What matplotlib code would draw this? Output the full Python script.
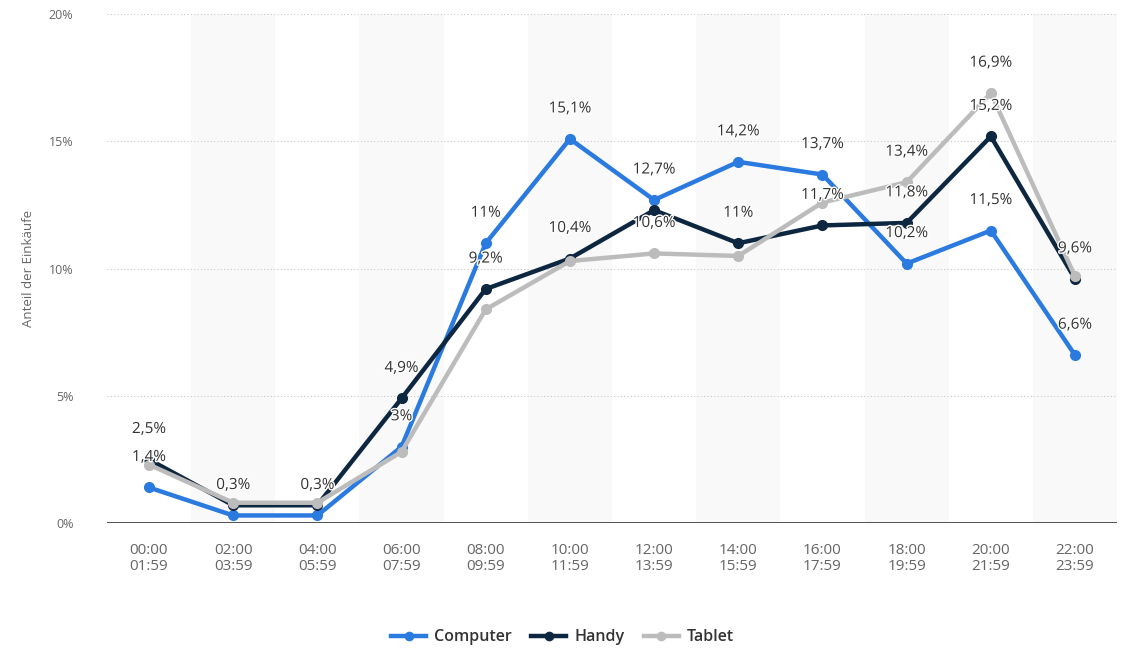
import matplotlib
matplotlib.use("Agg")
import matplotlib.pyplot as plt
import matplotlib.patheffects as pe

plt.rcParams['font.family'] = ['Open Sans', 'DejaVu Sans']

slots = ["00:00\n01:59", "02:00\n03:59", "04:00\n05:59", "06:00\n07:59",
         "08:00\n09:59", "10:00\n11:59", "12:00\n13:59", "14:00\n15:59",
         "16:00\n17:59", "18:00\n19:59", "20:00\n21:59", "22:00\n23:59"]

computer = [1.4, 0.3, 0.3, 3.0, 11.0, 15.1, 12.7, 14.2, 13.7, 10.2, 11.5, 6.6]
handy = [2.5, 0.7, 0.7, 4.9, 9.2, 10.4, 12.3, 11.0, 11.7, 11.8, 15.2, 9.6]
tablet = [2.3, 0.8, 0.8, 2.8, 8.4, 10.3, 10.6, 10.5, 12.6, 13.4, 16.9, 9.7]

# which points carry a value label (others hidden like in the original)
computer_lbl = [True] * 12
handy_lbl = [True, False, False, True, True, True, False, True, True, True, True, True]
tablet_lbl = [False, False, False, False, False, False, True, False, False, True, True, False]

series = [
    ("Computer", computer, computer_lbl, "#2b7ae0"),
    ("Handy", handy, handy_lbl, "#0e2741"),
    ("Tablet", tablet, tablet_lbl, "#bcbcbc"),
]


def fmt(v):
    s = f"{v:.1f}".replace(".", ",")
    if s.endswith(",0"):
        s = s[:-2]
    return s + "%"


fig = plt.figure(figsize=(11.25, 6.49), dpi=100)
ax = fig.add_axes([0.095, 0.194, 0.898, 0.784])

x = list(range(len(slots)))
for i in x:
    if i % 2 == 1:
        ax.axvspan(i - 0.5, i + 0.5, color="#f9f9f9", zorder=0, lw=0)

for yv in [5, 10, 15, 20]:
    ax.axhline(yv, color="#c8c8c8", lw=0.8, ls=(0, (1, 2)), zorder=1)
ax.axhline(0, color="#333333", lw=1.2, zorder=2)

for name, vals, lbl, col in series:
    ax.plot(x, vals, color=col, lw=3.2, marker="o", ms=7, label=name, zorder=3)

for name, vals, lbl, col in series:
    for i, v in enumerate(vals):
        if lbl[i]:
            ax.annotate(fmt(v), (i, v), xytext=(0, 30), textcoords="offset pixels",
                        ha="center", va="center", fontsize=11, color="#333333",
                        zorder=5,
                        path_effects=[pe.withStroke(linewidth=2, foreground="white")])

ax.set_xlim(-0.5, 11.5)
ax.set_ylim(0, 20)
ax.set_xticks(x)
ax.set_xticklabels(slots, fontsize=11, color="#666666", linespacing=1.1)
ax.set_yticks([0, 5, 10, 15, 20])
ax.set_yticklabels(["0%", "5%", "10%", "15%", "20%"], fontsize=9, color="#666666")
ax.tick_params(axis="both", length=0)
ax.tick_params(axis="x", pad=14)
ax.tick_params(axis="y", pad=24)
for sp in ax.spines.values():
    sp.set_visible(False)
ax.set_ylabel("Anteil der Einkäufe", fontsize=9.5, color="#666666", labelpad=10)

leg = fig.legend(loc="center", bbox_to_anchor=(0.5, 0.018), ncol=3, frameon=False,
                 fontsize=11.5, handlelength=2.2, columnspacing=1.2, handletextpad=0.5,
                 markerscale=0.85)
for t in leg.get_texts():
    t.set_color("#333333")
    t.set_fontweight("semibold")

fig.savefig("out.png", dpi=100)
